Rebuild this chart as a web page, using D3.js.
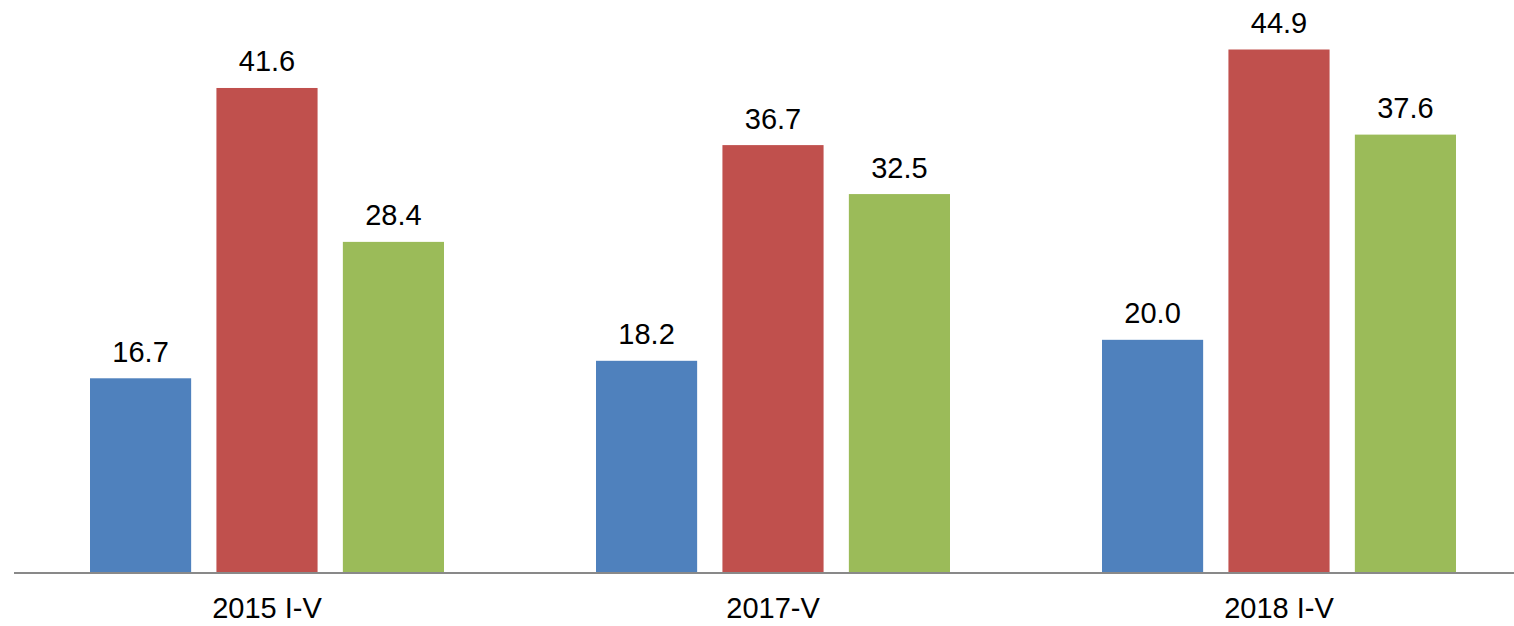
<!DOCTYPE html>
<html>
<head>
<meta charset="utf-8">
<script src="https://cdn.jsdelivr.net/npm/d3@7"></script>
<style>
  body { margin: 0; background: #fff; }
  svg { display: block; }
  text { font-family: "Liberation Sans", Arial, sans-serif; }
</style>
</head>
<body>
<svg id="chart" width="1514" height="626"></svg>
<script>
"use strict";

// data
const categories = ["2015 I-V", "2017-V", "2018 I-V"];
const seriesNames = ["a", "b", "c"];
const seriesA = [16.7, 18.2, 20.0];
const seriesB = [41.6, 36.7, 44.9];
const seriesC = [28.4, 32.5, 37.6];
const colors = ["#4F81BD", "#C0504D", "#9BBB59"];

const rows = categories.map(function(c, i) {
    return { cat: c, values: [seriesA[i], seriesB[i], seriesC[i]] };
});

const svg = d3.select("#chart");
const baseY = 573;

const x0 = d3.scaleBand()
    .domain(categories)
    .range([14, 1532])
    .padding(0);

const x1 = d3.scaleBand()
    .domain(seriesNames)
    .range([76, 430])
    .paddingInner(0.2)
    .paddingOuter(0);

const y = d3.scaleLinear()
    .domain([0, 44.9])
    .range([baseY, 49.5]);

const groups = svg.selectAll("g.group")
    .data(rows)
    .enter().append("g")
        .attr("class", "group")
        .attr("transform", function(d) { return "translate(" + x0(d.cat) + ",0)"; });

const bars = groups.selectAll("g.bar")
    .data(function(d) {
        return d.values.map(function(v, j) { return { key: seriesNames[j], value: v, idx: j }; });
    })
    .enter().append("g")
        .attr("class", "bar");

bars.append("rect")
    .attr("x", function(d) { return x1(d.key); })
    .attr("y", function(d) { return y(d.value); })
    .attr("width", x1.bandwidth())
    .attr("height", function(d) { return baseY - y(d.value); })
    .style("fill", function(d) { return colors[d.idx]; });

bars.append("text")
    .attr("x", function(d) { return x1(d.key) + x1.bandwidth() / 2; })
    .attr("y", function(d) { return y(d.value) - 16.5; })
    .attr("text-anchor", "middle")
    .style("font-size", "29px")
    .style("fill", "#000")
    .text(function(d) { return d.value.toFixed(1); });

// x axis
const xAxis = d3.axisBottom(x0).tickSize(0).tickPadding(0);
const axisG = svg.append("g")
    .attr("transform", "translate(0," + baseY + ")")
    .call(xAxis);
axisG.select(".domain")
    .attr("d", "M14,0H1514")
    .style("stroke", "#898989")
    .style("stroke-width", 2);
axisG.selectAll(".tick text")
    .attr("dy", null)
    .attr("y", 45)
    .style("font-size", "29px")
    .style("font-family", "'Liberation Sans', Arial, sans-serif")
    .style("fill", "#000");
</script>
</body>
</html>
